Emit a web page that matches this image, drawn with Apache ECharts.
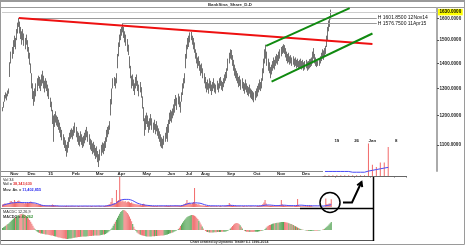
<!DOCTYPE html>
<html><head><meta charset="utf-8">
<script src="https://cdn.jsdelivr.net/npm/echarts@6/dist/echarts.min.js"></script>
<style>html,body{margin:0;padding:0;background:#fff}#c{width:465px;height:245px}</style>
</head><body><div id="c"></div>
<script>
// ---------- data ----------
const MONTH_KEYS = ['2014-10','2014-11','2014-12','2015-01','2015-02','2015-03','2015-04','2015-05','2015-06','2015-07','2015-08','2015-09','2015-10','2015-11','2015-12','2016-01'];
const MONTH_LABELS = ['', 'Nov','Dec','15','Feb','Mar','Apr','May','Jun','Jul','Aug','Sep','Oct','Nov','Dec',''];
const BARS_PER_MONTH = [7,16,19,22,22,20,23,23,17,14,24,24,22,23,22,6];

const LOW = [1215,1228,1250,1262,1255,1270,1280,
1345,1400,1420,1440,1470,1460,1500,1530,1560,
1530,1505,1480,1500,1475,1460,1480,1450,1420,1395,
1360,1300,1260,1235,1250,1270,1290,1310,1300,1290,
1310,1320,1300,1285,1300,1290,1270,1260,1230,1215,
1170,1110,1160,1175,1165,1160,1150,1140,1125,1115,
1100,1090,1080,1062,1075,1090,1110,1120,1125,1118,
1130,1140,1125,1110,1100,1095,1110,1100,1090,1095,
1105,1115,1125,1110,1100,1085,1080,1070,1075,1065,
1055,1060,1045,1030,1050,1065,1075,1070,1080,1090,
1110,1125,1135,1150,1200,1240,1300,1310,1300,1320,
1380,1430,1470,1500,1520,1535,1510,1490,1475,1450,
1435,1380,1340,1300,1310,1290,1275,1300,1310,1290,
1270,1285,1265,1225,1180,1130,1150,1170,1160,1140,
1150,1165,1150,1140,1150,1135,1145,1130,1120,1110,
1095,1090,1088,1100,1110,1120,1110,1140,1170,1180,
1175,1190,1200,1210,1235,1220,1240,1230,1210,1250,
1275,1300,1320,1380,1420,1460,1470,1490,1500,1480,
1460,1445,1420,1400,1380,1390,1370,1350,1360,1340,
1320,1300,1285,1295,1280,1300,1290,1275,1290,1300,
1285,1280,1295,1285,1300,1310,1295,1290,1305,1320,
1330,1340,1370,1400,1420,1415,1390,1370,1350,1340,
1330,1320,1305,1310,1295,1300,1290,1280,1295,1285,
1275,1270,1280,1265,1260,1255,1248,1255,1265,1270,
1285,1295,1290,1300,1330,1360,1400,1420,1390,1370,
1360,1340,1355,1370,1380,1375,1390,1400,1395,1410,
1420,1430,1440,1445,1440,1425,1410,1400,1405,1395,
1400,1390,1395,1385,1390,1380,1385,1375,1380,1385,
1375,1380,1370,1375,1380,1370,1375,1380,1385,1390,
1400,1420,1400,1390,1385,1390,1390,1400,1410,1420,
1415,1430,1440,1470,1500,1540,1560,1595];

const HIGH = [1230,1250,1275,1285,1280,1292,1300,
1405,1450,1470,1500,1520,1510,1550,1580,1602,
1585,1560,1540,1550,1530,1510,1525,1500,1470,1445,
1400,1360,1320,1290,1300,1320,1340,1350,1345,1335,
1355,1370,1350,1330,1340,1330,1315,1300,1265,1250,
1220,1200,1205,1215,1200,1195,1185,1175,1160,1150,
1135,1125,1115,1100,1110,1125,1140,1150,1155,1150,
1162,1175,1160,1145,1140,1130,1145,1135,1125,1130,
1140,1150,1160,1145,1135,1120,1115,1105,1110,1100,
1090,1095,1080,1070,1085,1100,1108,1105,1112,1125,
1150,1160,1165,1180,1260,1300,1340,1345,1340,1360,
1440,1490,1525,1550,1560,1577,1560,1540,1525,1505,
1480,1430,1390,1350,1355,1335,1320,1345,1355,1330,
1315,1325,1305,1270,1230,1190,1200,1210,1200,1180,
1190,1205,1190,1175,1185,1170,1180,1165,1155,1145,
1135,1125,1120,1130,1140,1160,1170,1185,1210,1220,
1215,1225,1240,1260,1275,1265,1280,1270,1250,1285,
1320,1340,1360,1440,1480,1510,1520,1535,1537,1520,
1510,1490,1460,1445,1425,1430,1410,1395,1400,1380,
1360,1345,1325,1335,1320,1340,1330,1315,1325,1340,
1320,1315,1330,1320,1340,1345,1330,1325,1340,1355,
1365,1380,1420,1445,1460,1457,1435,1415,1395,1380,
1370,1360,1345,1350,1335,1340,1325,1320,1335,1320,
1310,1305,1315,1300,1295,1290,1285,1290,1300,1310,
1320,1335,1325,1340,1380,1420,1460,1480,1450,1420,
1405,1385,1395,1410,1425,1415,1430,1440,1435,1450,
1460,1470,1475,1482,1478,1465,1450,1440,1445,1430,
1435,1425,1430,1420,1425,1415,1420,1410,1415,1420,
1410,1415,1405,1410,1415,1408,1410,1418,1420,1425,
1450,1465,1440,1425,1415,1410,1420,1430,1445,1460,
1455,1465,1475,1520,1560,1590,1610,1642];

// volume in millions
const VOLUME = [12,14,18,16,15,17,16,
28,30,25,22,35,26,24,30,32,
27,22,20,24,18,21,19,23,20,25,
28,24,20,18,16,15,14,12,13,11,
10,9,8,9,7,8,6,7,8,9,
12,10,8,6,5,6,5,4,5,4,
5,4,5,6,4,5,4,5,6,4,
5,4,3,4,5,4,3,4,5,4,
3,4,5,4,3,4,5,4,3,4,
5,4,3,6,5,4,3,4,5,6,
8,10,12,15,25,45,18,20,16,85,
30,35,150,40,28,32,25,30,22,26,
28,24,20,22,18,16,15,14,12,13,
10,12,9,14,16,12,10,8,7,8,
6,7,5,6,5,4,5,6,4,5,
6,5,4,5,6,7,6,5,6,7,
6,5,6,7,8,6,7,5,6,8,
10,12,15,20,35,18,22,16,14,20,
25,95,18,15,12,14,10,9,8,7,
6,7,5,6,5,4,5,6,4,5,
4,5,4,3,4,5,4,3,4,5,
6,8,10,20,12,9,8,6,5,6,
5,4,5,4,3,4,5,4,3,4,
4,3,4,5,4,3,4,3,4,5,
5,6,8,10,15,22,35,18,10,8,
7,6,8,7,6,7,5,6,7,8,
10,35,12,9,8,7,6,5,6,5,
6,5,4,5,6,8,40,10,5,5,
4,5,4,5,4,5,4,5,6,5,
2,1,1,1,1,1,1,1,1,1,
1,1,43,15,12,18,18,38.34363];

const VOL_MA = [8,10,12,14,15,16,17,
19,20,21,21,22,22,22,23,23,
23,23,22,22,22,22,22,22,22,22,
22,22,21,21,20,19,17,15,13,11,
9,8,7,7,6,6,6,6,6,6,
6,6,6,6,6,6,5,5,5,5,
5,5,5,5,5,5,5,5,5,5,
5,5,5,5,5,5,5,5,5,5,
5,5,5,5,5,5,5,5,5,5,
5,5,5,5,5,5,5,5,5,5,
6,6,7,8,9,11,13,15,17,21,
24,27,31,34,36,37,38,38,38,38,
38,37,36,34,32,29,26,23,20,18,
16,14,13,12,11,10,9,8,8,7,
7,7,6,6,6,6,6,6,6,6,
6,6,6,6,6,6,6,6,6,6,
6,6,6,6,6,6,6,6,6,7,
8,9,11,13,15,17,18,19,19,20,
20,21,21,21,20,20,19,18,16,14,
12,10,9,8,7,7,6,6,6,6,
6,6,6,6,6,6,6,6,6,6,
6,6,7,7,8,8,8,7,7,7,
6,6,6,6,6,6,6,6,6,6,
6,6,6,6,6,6,6,6,6,6,
6,6,6,7,7,8,9,10,10,10,
10,9,9,8,8,8,7,7,7,7,
8,9,9,9,9,8,8,7,7,7,
7,7,7,7,7,7,8,9,9,9,
9,8,8,8,7,7,7,7,7,7,
6,6,6,6,6,6,6,6,5,5,
5,5,6.5,7.5,8.5,9.5,10.5,11.402855];

const MACD = [10,14,18,22,26,30,34,
40,46,52,57,62,66,70,73,76,
78,80,80,79,77,74,70,65,58,50,
41,32,22,12,4,-3,-8,-12,-15,-17,
-18,-19,-20,-21,-22,-23,-24,-25,-26,-27,
-28,-30,-31,-33,-34,-36,-37,-38,-40,-41,
-42,-43,-44,-45,-45,-44,-43,-42,-41,-40,
-39,-38,-37,-36,-35,-35,-34,-34,-33,-33,
-32,-32,-31,-31,-30,-30,-30,-29,-29,-28,
-28,-27,-27,-27,-26,-25,-24,-23,-22,-20,
-16,-12,-7,-2,4,12,22,32,42,52,
62,72,82,90,96,100,100,97,92,86,
78,68,56,44,30,17,5,-5,-12,-17,
-21,-24,-26,-28,-29,-30,-31,-32,-32,-32,
-32,-32,-31,-31,-31,-30,-30,-30,-29,-29,
-28,-28,-27,-26,-25,-24,-22,-20,-18,-16,
-14,-12,-9,-6,-3,0,5,12,20,28,
36,44,52,58,64,68,71,73,75,75,
74,72,68,62,55,47,38,28,18,8,
0,-5,-8,-10,-11,-12,-12,-12,-12,-11,
-11,-11,-10,-10,-10,-10,-9,-9,-8,-8,
-7,-5,-2,2,8,14,20,26,31,34,
35,34,30,24,16,8,0,-4,-6,-8,
-9,-10,-10,-10,-10,-10,-9,-9,-8,-8,
-7,-6,-5,-4,-2,0,5,12,18,22,
25,27,29,31,33,34,35,36,37,38,
39,40,40,40,40,39,38,36,34,32,
30,28,25,22,19,16,13,10,7,5,
3,1,0,-1,-2,-3,-4,-4,-5,-5,
-4,-3,-3,-3,-3,-2,-2,-1,0,2,
4,7,11,16,22,28,34,40.262];

const PRICE_TICKS = [1100,1200,1300,1400,1500,1600];
const LAST_PRICE = 1630;
const MARKED_HIGHS = [
  {bar:15,  price:1601.85, text:'H 1601.8500 12Nov14'},
  {bar:111, price:1576.75, text:'H 1576.7500 11Apr15'}
];
const RED_TREND   = [[15, 1601.85], [341, 1483]];
const GREEN_UPPER = [[243, 1475], [320, 1649]];
const GREEN_LOWER = [[248, 1327], [341, 1530]];
const INSET_FIRST_BAR = 287;
const INSET_TICK_LABELS = ['','','','19','','','','','26','','','','Jan','','','','','','8','',''];

// ---------- build ----------
const CATEGORIES = [];
const MONTH_START_LABEL = new Map();
MONTH_KEYS.forEach((key, m) => {
  if (m > 0) MONTH_START_LABEL.set(CATEGORIES.length, MONTH_LABELS[m]);
  for (let d = 1; d <= BARS_PER_MONTH[m]; d++) CATEGORIES.push(key + '/' + d);
});
const N_MAIN = 401, N_SUB = 342;
const mainCats = CATEGORIES.concat(Array.from({length: N_MAIN - CATEGORIES.length}, (_, j) => 'next' + j));
const subCats = mainCats.slice(0, N_SUB);
const mid = LOW.map((l, i) => (l + HIGH[i]) / 2);
const GREEN = '#55a455', RED = '#f07474';
const FONT = 'Liberation Sans';
const H_LINE_END = 345;
const BAR_COLOR = '#4e4e4e';

const candles = LOW.map((l, i) => [l, HIGH[i], l, HIGH[i]]);
const insetCats = INSET_TICK_LABELS.map((t, j) => 's' + j);
const insetVol = INSET_TICK_LABELS.map((t, j) => VOLUME[INSET_FIRST_BAR + j] ?? null);
const insetMa = INSET_TICK_LABELS.map((t, j) => VOL_MA[INSET_FIRST_BAR + j] ?? null);

const markLines = [
  {yAxis: LAST_PRICE, lineStyle:{color:'#cccccc', width:1, type:'solid'},
   label:{show:true, position:'end', formatter: LAST_PRICE.toFixed(4), backgroundColor:'#ffff00', color:'#000',
          fontSize:4.6, fontWeight:'bold', fontFamily:FONT, padding:[1,1.5,0.5,1.5], distance:1}}
];
MARKED_HIGHS.forEach(h => markLines.push([
  {coord:[h.bar, h.price], lineStyle:{color:'#9a9a9a', width:1, type:'solid'},
   label:{show:true, position:'end', formatter:h.text, color:'#111', fontSize:5, fontFamily:FONT, distance:1}},
  {coord:[H_LINE_END, h.price]}
]));
markLines.push([{coord:RED_TREND[0], lineStyle:{color:'#ee1111', width:2, type:'solid'}, label:{show:false}}, {coord:RED_TREND[1]}]);
markLines.push([{coord:GREEN_UPPER[0], lineStyle:{color:'#108a10', width:2, type:'solid'}, label:{show:false}}, {coord:GREEN_UPPER[1]}]);
markLines.push([{coord:GREEN_LOWER[0], lineStyle:{color:'#108a10', width:2, type:'solid'}, label:{show:false}}, {coord:GREEN_LOWER[1]}]);

const txt = (text, left, top, size, extra) => Object.assign({
  text, left, top, padding:0, itemGap:0,
  textStyle:{fontSize:size, fontFamily:FONT, color:'#222', fontWeight:'normal', lineHeight:size+0.5}
}, extra || {});
const richTxt = (a, b, colorB, left, top) => ({
  text:'{a|' + a + '}{b|' + b + '}', left, top, padding:0,
  textStyle:{fontSize:3.8, fontFamily:FONT, lineHeight:4.3,
    rich:{a:{color:'#333', fontSize:3.8, fontFamily:FONT}, b:{color:colorB, fontSize:3.8, fontFamily:FONT}}}
});

const option = {
  animation:false,
  backgroundColor:'#fff',
  title:[
    txt('BankSina_Share_D-D', 208, 2, 4.3, {textStyle:{fontSize:4.3, fontFamily:FONT, color:'#333', fontWeight:'bold', lineHeight:5}}),
    txt('Vol 34', 3, 177.8, 3.8),
    richTxt('Vol = ', '38,343,630', '#e23030', 3, 182.2),
    richTxt('Mov. Av. = ', '11,402,855', '#2a2aee', 3, 187.4),
    txt('MACDC 12,26,9', 3, 209.8, 3.8),
    richTxt('MACDC = ', '40.262', '#2f8f2f', 3, 214.8),
    txt('Chart created by Dynamic Trader 6.1 1996-2014', 190, 240, 3.5, {textStyle:{fontSize:3.5, fontFamily:FONT, color:'#333', lineHeight:4}})
  ],
  grid:[
    {left:2, top:8, width:435, height:163},
    {left:2, top:177, width:371, height:30},
    {left:2, top:209.5, width:371, height:30.5},
    {left:323, top:137, width:83, height:39, show:true, backgroundColor:'#fff', borderWidth:0}
  ],
  xAxis:[
    {type:'category', gridIndex:0, data:mainCats, axisLine:{show:false}, axisTick:{show:false}, splitLine:{show:false},
     axisLabel:{interval:(i) => MONTH_START_LABEL.has(i), formatter:(v, i) => MONTH_START_LABEL.get(i) || '',
                fontSize:4.4, fontWeight:'bold', fontFamily:FONT, color:'#222', align:'left', margin:0.8}},
    {type:'category', gridIndex:1, data:subCats, show:false},
    {type:'category', gridIndex:2, data:subCats, show:false},
    {type:'category', gridIndex:3, data:insetCats, position:'top', z:6,
     axisLine:{show:true, lineStyle:{color:'#666', width:1}},
     axisTick:{show:true, inside:true, length:1.5, interval:(i) => INSET_TICK_LABELS[i] !== '', lineStyle:{color:'#666'}},
     axisLabel:{show:true, inside:true, interval:0, formatter:(v, i) => INSET_TICK_LABELS[i], fontSize:4.4, fontWeight:'bold', fontFamily:FONT, color:'#222', margin:2}}
  ],
  yAxis:[
    {type:'log', logBase:10, gridIndex:0, position:'right', min:1018, max:1650, splitLine:{show:false},
     axisLine:{show:true, lineStyle:{color:'#aaaaaa', width:2}},
     axisTick:{show:true, length:2, customValues:PRICE_TICKS, lineStyle:{color:'#555'}},
     axisLabel:{customValues:PRICE_TICKS, formatter:(v) => Number(v).toFixed(4), fontSize:4.6, fontWeight:'bold', fontFamily:FONT, color:'#222', margin:2.5}},
    {type:'value', gridIndex:1, min:0, max:150, show:false},
    {type:'value', gridIndex:2, min:-50, max:103, show:false},
    {type:'value', gridIndex:3, min:0, max:51.6, show:false}
  ],
  series:[
    {type:'candlestick', xAxisIndex:0, yAxisIndex:0, data:candles, barWidth:1, silent:true,
     itemStyle:{color:BAR_COLOR, color0:BAR_COLOR, borderColor:BAR_COLOR, borderColor0:BAR_COLOR, borderWidth:0.8},
     markLine:{silent:true, symbol:['none','none'], animation:false, data:markLines}},
    {type:'bar', xAxisIndex:1, yAxisIndex:1, data:VOLUME, barWidth:1, silent:true, itemStyle:{color:'#f26a6a'}},
    {type:'line', xAxisIndex:1, yAxisIndex:1, data:VOL_MA, symbol:'none', silent:true, lineStyle:{color:'#4a4af5', width:1}},
    {type:'bar', xAxisIndex:2, yAxisIndex:2, barWidth:1, silent:true,
     data:MACD.map((v, i) => ({value:v, itemStyle:{color:(i > 0 && mid[i] < mid[i-1]) ? RED : GREEN}}))},
    {type:'bar', xAxisIndex:3, yAxisIndex:3, data:insetVol, barWidth:1, silent:true, z:6, itemStyle:{color:'#f26a6a'}},
    {type:'line', xAxisIndex:3, yAxisIndex:3, data:insetMa, symbol:'none', silent:true, z:6, lineStyle:{color:'#4a4af5', width:1}}
  ],
  graphic:[
    {type:'rect', silent:true, shape:{x:0.5, y:0.5, width:464, height:244}, style:{fill:'none', stroke:'#9a9a9a', lineWidth:1}},
    {type:'line', silent:true, shape:{x1:0, y1:1, x2:465, y2:1}, style:{stroke:'#9a9a9a', lineWidth:2}},
    {type:'line', silent:true, shape:{x1:1, y1:7.5, x2:464, y2:7.5}, style:{stroke:'#9a9a9a', lineWidth:1}},
    {type:'line', silent:true, shape:{x1:1, y1:171.5, x2:323, y2:171.5}, style:{stroke:'#888', lineWidth:1}},
    {type:'line', silent:true, shape:{x1:1, y1:176.5, x2:406, y2:176.5}, style:{stroke:'#888', lineWidth:1}},
    {type:'line', silent:true, shape:{x1:1, y1:208.5, x2:373, y2:208.5}, style:{stroke:'#888', lineWidth:1}},
    {type:'line', silent:true, shape:{x1:300, y1:208.5, x2:373.5, y2:208.5}, style:{stroke:'#000', lineWidth:1.5}},
    {type:'line', silent:true, shape:{x1:1, y1:240.5, x2:373.5, y2:240.5}, style:{stroke:'#555', lineWidth:1}},
    {type:'line', silent:true, shape:{x1:373.5, y1:176.5, x2:373.5, y2:241}, style:{stroke:'#000', lineWidth:1.5}},
    {type:'circle', silent:true, z:50, shape:{cx:330, cy:202.5, r:10}, style:{fill:'none', stroke:'#000', lineWidth:1.5}},
    {type:'polyline', silent:true, z:50, shape:{points:[[343,202.5],[352,202.5],[361.5,182]]}, style:{fill:'none', stroke:'#000', lineWidth:2}},
    {type:'polyline', silent:true, z:50, shape:{points:[[357.2,185.2],[361.5,182],[362.2,187.2]]}, style:{fill:'none', stroke:'#000', lineWidth:2}}
  ]
};
const chart = echarts.init(document.getElementById('c'), null, {renderer:'canvas', width:465, height:245});
chart.setOption(option);
</script>
</body></html>
